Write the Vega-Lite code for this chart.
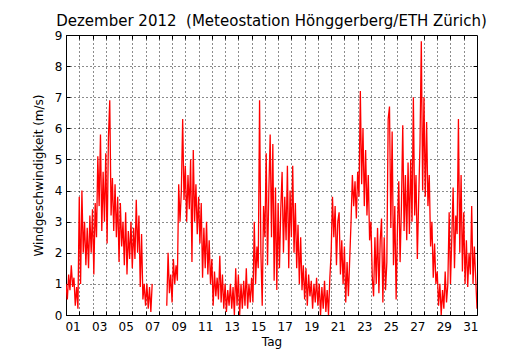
{
  "$schema": "https://vega.github.io/schema/vega-lite/v6.json",
  "width": 411,
  "height": 280,
  "autosize": {"type": "none"},
  "padding": {"left": 66, "top": 35, "right": 53, "bottom": 36},
  "background": "white",
  "title": {"text": "Dezember 2012 \u00a0(Meteostation Hönggerberg/ETH Zürich)", "fontSize": 15, "font": "DejaVu Sans", "fontWeight": "normal", "color": "black", "anchor": "middle", "offset": 0},
  "config": {"view": {"stroke": "black", "strokeWidth": 1}, "font": "DejaVu Sans"},
  "data": {"values": [
{"t":0.0,"v":1.0},{"t":0.1,"v":0.5},{"t":0.2,"v":1.3},{"t":0.3,"v":0.8},{"t":0.4,"v":1.6},{"t":0.5,"v":0.9},{"t":0.6,"v":1.2},{"t":0.7,"v":0.3},{"t":0.8,"v":0.9},{"t":0.9,"v":0.2},
{"t":1.0,"v":3.8},{"t":1.1,"v":1.0},{"t":1.2,"v":4.0},{"t":1.3,"v":2.0},{"t":1.4,"v":3.0},{"t":1.5,"v":1.6},{"t":1.6,"v":2.8},{"t":1.7,"v":1.5},{"t":1.8,"v":3.2},{"t":1.9,"v":2.0},
{"t":2.0,"v":3.4},{"t":2.1,"v":1.3},{"t":2.2,"v":3.6},{"t":2.3,"v":2.5},{"t":2.4,"v":5.1},{"t":2.5,"v":3.5},{"t":2.6,"v":5.8},{"t":2.7,"v":2.7},{"t":2.8,"v":4.6},{"t":2.9,"v":3.0},
{"t":3.0,"v":5.2},{"t":3.1,"v":2.3},{"t":3.2,"v":5.7},{"t":3.3,"v":6.9},{"t":3.4,"v":3.2},{"t":3.5,"v":4.4},{"t":3.6,"v":2.7},{"t":3.7,"v":4.2},{"t":3.8,"v":2.5},{"t":3.9,"v":3.8},
{"t":4.0,"v":1.7},{"t":4.1,"v":3.6},{"t":4.2,"v":2.2},{"t":4.3,"v":3.0},{"t":4.4,"v":1.6},{"t":4.5,"v":3.3},{"t":4.6,"v":1.3},{"t":4.7,"v":2.7},{"t":4.8,"v":1.8},{"t":4.9,"v":3.0},
{"t":5.0,"v":1.5},{"t":5.1,"v":2.8},{"t":5.2,"v":1.8},{"t":5.3,"v":3.7},{"t":5.4,"v":2.0},{"t":5.5,"v":3.2},{"t":5.6,"v":0.9},{"t":5.7,"v":2.6},{"t":5.8,"v":0.5},{"t":5.9,"v":1.0},
{"t":6.0,"v":0.3},{"t":6.1,"v":1.0},{"t":6.2,"v":0.2},{"t":6.3,"v":0.9},{"t":6.4,"v":0.1},{"t":6.5,"v":1.0},{"t":7.0,"v":null},
{"t":7.6,"v":0.3},{"t":7.7,"v":2.0},{"t":7.8,"v":0.7},{"t":7.9,"v":1.3},{"t":8.0,"v":0.4},{"t":8.1,"v":1.8},{"t":8.2,"v":1.0},{"t":8.3,"v":1.6},{"t":8.4,"v":1.1},{"t":8.5,"v":4.2},{"t":8.6,"v":3.0},{"t":8.7,"v":4.0},{"t":8.8,"v":6.3},{"t":8.9,"v":3.7},
{"t":9.0,"v":4.8},{"t":9.1,"v":3.0},{"t":9.2,"v":4.5},{"t":9.3,"v":3.4},{"t":9.4,"v":5.0},{"t":9.5,"v":1.7},{"t":9.6,"v":5.3},{"t":9.7,"v":3.0},{"t":9.8,"v":4.2},{"t":9.9,"v":2.6},
{"t":10.0,"v":3.8},{"t":10.1,"v":2.3},{"t":10.2,"v":3.6},{"t":10.3,"v":1.2},{"t":10.4,"v":2.8},{"t":10.5,"v":1.5},{"t":10.6,"v":3.0},{"t":10.7,"v":1.3},{"t":10.8,"v":2.4},{"t":10.9,"v":1.0},
{"t":11.0,"v":1.8},{"t":11.1,"v":0.3},{"t":11.2,"v":1.4},{"t":11.3,"v":0.6},{"t":11.4,"v":1.2},{"t":11.5,"v":0.5},{"t":11.6,"v":1.9},{"t":11.7,"v":0.4},{"t":11.8,"v":1.3},{"t":11.9,"v":0.2},
{"t":12.0,"v":1.0},{"t":12.1,"v":0.1},{"t":12.2,"v":0.8},{"t":12.3,"v":0.3},{"t":12.4,"v":1.0},{"t":12.5,"v":0.2},{"t":12.6,"v":0.9},{"t":12.7,"v":0.0},{"t":12.8,"v":1.5},{"t":12.9,"v":0.3},
{"t":13.0,"v":1.3},{"t":13.1,"v":0.0},{"t":13.2,"v":1.0},{"t":13.3,"v":0.2},{"t":13.4,"v":1.1},{"t":13.5,"v":0.3},{"t":13.6,"v":1.5},{"t":13.7,"v":0.2},{"t":13.8,"v":1.0},{"t":13.9,"v":0.4},
{"t":14.0,"v":1.2},{"t":14.1,"v":0.4},{"t":14.2,"v":3.0},{"t":14.3,"v":1.0},{"t":14.4,"v":2.2},{"t":14.5,"v":1.5},{"t":14.6,"v":6.9},{"t":14.7,"v":2.0},{"t":14.8,"v":0.3},{"t":14.9,"v":3.5},
{"t":15.0,"v":2.5},{"t":15.1,"v":5.2},{"t":15.2,"v":1.6},{"t":15.3,"v":4.0},{"t":15.4,"v":5.8},{"t":15.5,"v":2.5},{"t":15.6,"v":5.5},{"t":15.7,"v":1.1},{"t":15.8,"v":4.1},{"t":15.9,"v":0.8},
{"t":16.0,"v":3.6},{"t":16.1,"v":1.5},{"t":16.2,"v":3.4},{"t":16.3,"v":4.6},{"t":16.4,"v":2.0},{"t":16.5,"v":3.8},{"t":16.6,"v":2.4},{"t":16.7,"v":4.8},{"t":16.8,"v":1.5},{"t":16.9,"v":4.0},
{"t":17.0,"v":2.5},{"t":17.1,"v":4.8},{"t":17.2,"v":2.0},{"t":17.3,"v":3.6},{"t":17.4,"v":1.5},{"t":17.5,"v":2.9},{"t":17.6,"v":1.0},{"t":17.7,"v":2.5},{"t":17.8,"v":0.8},{"t":17.9,"v":1.6},
{"t":18.0,"v":0.5},{"t":18.1,"v":1.5},{"t":18.2,"v":0.3},{"t":18.3,"v":1.3},{"t":18.4,"v":0.6},{"t":18.5,"v":1.1},{"t":18.6,"v":0.2},{"t":18.7,"v":1.0},{"t":18.8,"v":0.4},{"t":18.9,"v":1.2},
{"t":19.0,"v":0.3},{"t":19.1,"v":1.0},{"t":19.2,"v":0.0},{"t":19.3,"v":0.9},{"t":19.4,"v":0.2},{"t":19.5,"v":1.1},{"t":19.6,"v":0.1},{"t":19.7,"v":0.8},{"t":19.8,"v":0.0},{"t":19.9,"v":1.2},
{"t":20.0,"v":2.0},{"t":20.1,"v":3.8},{"t":20.2,"v":2.5},{"t":20.3,"v":3.5},{"t":20.4,"v":1.6},{"t":20.5,"v":3.0},{"t":20.6,"v":3.3},{"t":20.7,"v":1.3},{"t":20.8,"v":2.4},{"t":20.9,"v":1.0},
{"t":21.0,"v":2.2},{"t":21.1,"v":0.4},{"t":21.2,"v":1.7},{"t":21.3,"v":0.6},{"t":21.4,"v":1.8},{"t":21.5,"v":3.0},{"t":21.6,"v":4.5},{"t":21.7,"v":3.5},{"t":21.8,"v":4.3},{"t":21.9,"v":3.1},
{"t":22.0,"v":4.6},{"t":22.1,"v":3.8},{"t":22.2,"v":7.2},{"t":22.3,"v":4.2},{"t":22.4,"v":6.0},{"t":22.5,"v":3.5},{"t":22.6,"v":5.3},{"t":22.7,"v":3.2},{"t":22.8,"v":4.5},{"t":22.9,"v":2.4},
{"t":23.0,"v":3.0},{"t":23.1,"v":1.2},{"t":23.2,"v":0.6},{"t":23.3,"v":2.5},{"t":23.4,"v":1.0},{"t":23.5,"v":2.8},{"t":23.6,"v":0.7},{"t":23.7,"v":2.4},{"t":23.8,"v":3.1},{"t":23.9,"v":0.4},
{"t":24.0,"v":2.5},{"t":24.1,"v":0.8},{"t":24.2,"v":1.7},{"t":24.3,"v":6.3},{"t":24.4,"v":6.7},{"t":24.5,"v":2.8},{"t":24.6,"v":5.9},{"t":24.7,"v":1.6},{"t":24.8,"v":3.5},{"t":24.9,"v":0.5},
{"t":25.0,"v":2.8},{"t":25.1,"v":4.3},{"t":25.2,"v":1.7},{"t":25.3,"v":3.5},{"t":25.4,"v":6.1},{"t":25.5,"v":2.7},{"t":25.6,"v":4.5},{"t":25.7,"v":2.4},{"t":25.8,"v":4.9},{"t":25.9,"v":2.6},
{"t":26.0,"v":5.0},{"t":26.1,"v":3.0},{"t":26.2,"v":7.0},{"t":26.3,"v":3.2},{"t":26.4,"v":4.5},{"t":26.5,"v":1.8},{"t":26.6,"v":3.7},{"t":26.7,"v":5.5},{"t":26.8,"v":8.8},{"t":26.9,"v":4.0},
{"t":27.0,"v":7.0},{"t":27.1,"v":3.8},{"t":27.2,"v":6.2},{"t":27.3,"v":3.5},{"t":27.4,"v":4.5},{"t":27.5,"v":2.2},{"t":27.6,"v":3.0},{"t":27.7,"v":1.2},{"t":27.8,"v":2.3},{"t":27.9,"v":1.0},
{"t":28.0,"v":1.4},{"t":28.1,"v":0.3},{"t":28.2,"v":1.0},{"t":28.3,"v":0.0},{"t":28.4,"v":0.8},{"t":28.5,"v":0.2},{"t":28.6,"v":1.4},{"t":28.7,"v":0.4},{"t":28.8,"v":1.0},{"t":28.9,"v":3.3},
{"t":29.0,"v":1.0},{"t":29.1,"v":2.5},{"t":29.2,"v":4.1},{"t":29.3,"v":1.5},{"t":29.4,"v":3.2},{"t":29.5,"v":2.6},{"t":29.6,"v":6.3},{"t":29.7,"v":2.0},{"t":29.8,"v":4.5},{"t":29.9,"v":1.4},
{"t":30.0,"v":3.3},{"t":30.1,"v":1.0},{"t":30.2,"v":2.4},{"t":30.3,"v":0.9},{"t":30.4,"v":2.0},{"t":30.5,"v":1.3},{"t":30.6,"v":3.5},{"t":30.7,"v":1.0},{"t":30.8,"v":2.2},{"t":30.9,"v":1.2},{"t":31.0,"v":0.2}
  ]},
  "layer": [
    {
      "mark": {"type": "line", "color": "#ff0000", "strokeWidth": 1.3, "clip": true},
      "encoding": {
        "x": {"field": "t", "type": "quantitative", "scale": {"domain": [0, 31], "nice": false, "zero": false},
          "axis": {"title": "Tag", "titleFontSize": 12, "titleFontWeight": "normal", "titleColor": "black", "titleFont": "DejaVu Sans", "titlePadding": 4,
            "values": [0.5,1,1.5,2,2.5,3,3.5,4,4.5,5,5.5,6,6.5,7,7.5,8,8.5,9,9.5,10,10.5,11,11.5,12,12.5,13,13.5,14,14.5,15,15.5,16,16.5,17,17.5,18,18.5,19,19.5,20,20.5,21,21.5,22,22.5,23,23.5,24,24.5,25,25.5,26,26.5,27,27.5,28,28.5,29,29.5,30,30.5],
            "labelExpr": "datum.value % 2 === 0.5 ? ((floor(datum.value) + 1 < 10 ? '0' : '') + (floor(datum.value) + 1)) : ''",
            "labelOverlap": false, "labelFlush": false, "labelBound": false,
            "labelFontSize": 12, "labelColor": "black", "labelFont": "DejaVu Sans", "labelPadding": 10,
            "tickSize": -4, "tickColor": "black",
            "tickOpacity": {"condition": {"test": "datum.value % 1 === 0", "value": 1}, "value": 0},
            "grid": true, "gridColor": "black", "gridDash": [1, 3], "gridWidth": 1,
            "gridOpacity": {"condition": {"test": "datum.value % 1 === 0", "value": 0.9}, "value": 0},
            "domain": true, "domainColor": "black"}},
        "y": {"field": "v", "type": "quantitative", "scale": {"domain": [0, 9], "nice": false},
          "axis": {"title": "Windgeschwindigkeit (m/s)", "titleFontSize": 12, "titleFontWeight": "normal", "titleColor": "black", "titleFont": "DejaVu Sans", "titlePadding": 9,
            "values": [0,1,2,3,4,5,6,7,8,9], "labelFontSize": 12, "labelColor": "black", "labelFont": "DejaVu Sans", "labelPadding": 8,
            "tickSize": -4, "tickColor": "black",
            "grid": true, "gridColor": "black", "gridDash": [1, 3], "gridWidth": 1, "gridOpacity": 0.9,
            "domain": true, "domainColor": "black"}}
      }
    },
    {
      "mark": {"type": "line", "opacity": 0},
      "encoding": {
        "x": {"field": "t", "type": "quantitative",
          "axis": {"orient": "top", "title": null, "labels": false, "grid": false, "domain": false, "tickSize": -4, "tickColor": "black", "values": [1,2,3,4,5,6,7,8,9,10,11,12,13,14,15,16,17,18,19,20,21,22,23,24,25,26,27,28,29,30]}},
        "y": {"field": "v", "type": "quantitative",
          "axis": {"orient": "right", "title": null, "labels": false, "grid": false, "domain": false, "tickSize": -4, "tickColor": "black", "values": [1,2,3,4,5,6,7,8]}}
      }
    }
  ],
  "resolve": {"axis": {"x": "independent", "y": "independent"}}
}
